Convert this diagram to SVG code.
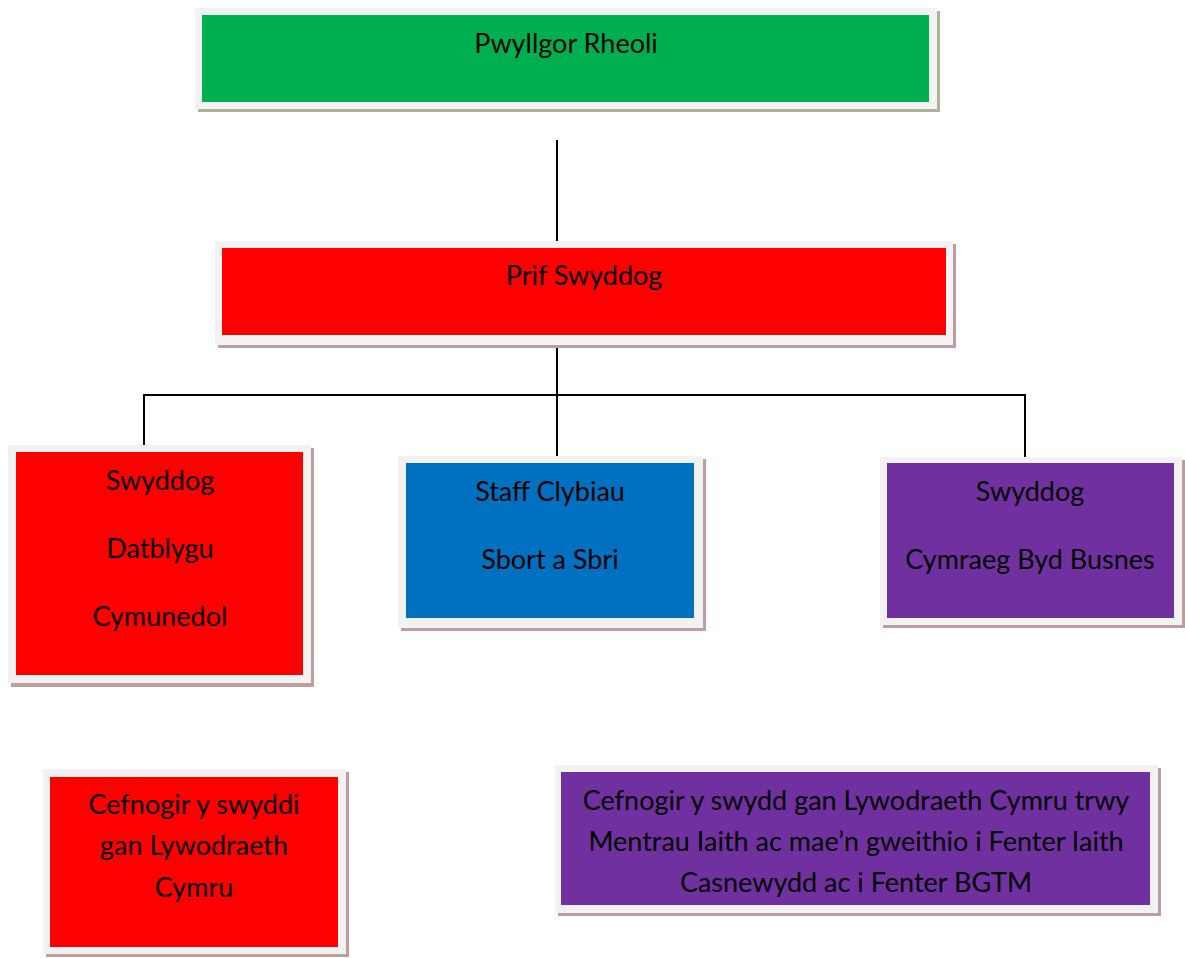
<svg xmlns="http://www.w3.org/2000/svg" width="1185" height="958" viewBox="0 0 1185 958">
<style>
.frame{fill:#f2f2f2}
.sh{fill:#bd9d9d}
.shg{fill:#a8b596}
.t{font-family:Lato,"Liberation Sans",sans-serif;font-size:27px;fill:#000;text-anchor:middle}
.c{stroke:#000;stroke-width:2;fill:none}
</style>
<rect width="1185" height="958" fill="#fff"/>
<g id="connectors">
<line class="c" x1="557" y1="140" x2="557" y2="241"/>
<line class="c" x1="557" y1="345" x2="557" y2="456"/>
<polyline class="c" points="144,445 144,395 1025,395 1025,457"/>
</g>
<g id="pwyllgor">
<rect class="shg" x="198" y="11" width="742" height="101"/>
<rect class="frame" x="195" y="8" width="742" height="101"/>
<rect x="202" y="15" width="727" height="87" fill="#00b050"/>
<text class="t" x="566" y="53">Pwyllgor Rheoli</text>
</g>
<g id="prif">
<rect class="sh" x="218" y="244" width="738" height="104"/>
<rect class="frame" x="215" y="241" width="738" height="104"/>
<rect x="222" y="248" width="724" height="87" fill="#ff0000"/>
<text class="t" x="584" y="285">Prif Swyddog</text>
</g>
<g id="datblygu">
<rect class="sh" x="11" y="448" width="303" height="239"/>
<rect class="frame" x="8" y="445" width="303" height="238"/>
<rect x="16" y="452" width="287" height="223" fill="#ff0000"/>
<text class="t" x="160" y="490">Swyddog</text>
<text class="t" x="160" y="558">Datblygu</text>
<text class="t" x="160" y="626">Cymunedol</text>
</g>
<g id="clybiau">
<rect class="sh" x="401" y="459" width="305" height="172"/>
<rect class="frame" x="398" y="456" width="305" height="172"/>
<rect x="406" y="463" width="288" height="155" fill="#0070c0"/>
<text class="t" x="550" y="501">Staff Clybiau</text>
<text class="t" x="550" y="569">Sbort a Sbri</text>
</g>
<g id="busnes">
<rect class="sh" x="883" y="460" width="302" height="168"/>
<rect class="frame" x="880" y="457" width="302" height="168"/>
<rect x="887" y="463" width="287" height="155" fill="#7030a0"/>
<text class="t" x="1030" y="501">Swyddog</text>
<text class="t" x="1030" y="569">Cymraeg Byd Busnes</text>
</g>
<g id="cefnogi1">
<rect class="sh" x="46" y="772" width="303" height="185"/>
<rect class="frame" x="43" y="769" width="303" height="185"/>
<rect x="50" y="777" width="288" height="170" fill="#ff0000"/>
<text class="t" x="194" y="814">Cefnogir y swyddi</text>
<text class="t" x="194" y="855">gan Lywodraeth</text>
<text class="t" x="194" y="897">Cymru</text>
</g>
<g id="cefnogi2">
<rect class="sh" x="558" y="768" width="603" height="148"/>
<rect class="frame" x="555" y="765" width="603" height="148"/>
<rect x="561" y="772" width="589" height="133" fill="#7030a0"/>
<text class="t" x="856" y="810">Cefnogir y swydd gan Lywodraeth Cymru trwy</text>
<text class="t" x="856" y="851">Mentrau Iaith ac mae’n gweithio i Fenter Iaith</text>
<text class="t" x="856" y="892">Casnewydd ac i Fenter BGTM</text>
</g>
</svg>
